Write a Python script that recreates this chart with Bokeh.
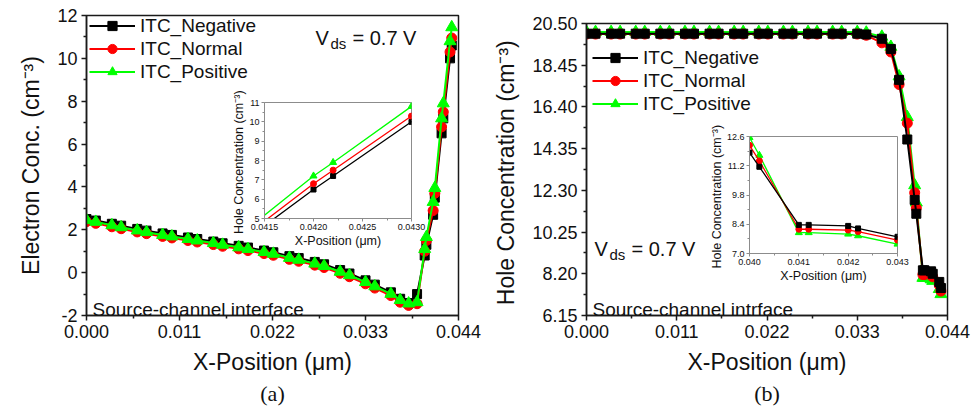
from bokeh.plotting import figure
from bokeh.models import FixedTicker, PrintfTickFormatter, Legend, LegendItem, Label, Title, Range1d
from bokeh.layouts import row, column
from bokeh.embed import file_html
from bokeh.resources import INLINE

# ---- data -------------------------------------------------------------
x_pos = [0.0000, 0.0011, 0.0030, 0.0041, 0.0060, 0.0071, 0.0090, 0.0101,
         0.0120, 0.0131, 0.0150, 0.0161, 0.0180, 0.0191, 0.0210, 0.0221,
         0.0240, 0.0251, 0.0270, 0.0281, 0.0300, 0.0311, 0.0330, 0.0341,
         0.0360, 0.0371, 0.0381, 0.0391, 0.0400, 0.0402, 0.0410, 0.0412,
         0.0420, 0.0422, 0.0430, 0.0432]

electron_negative = [2.50, 2.43, 2.28, 2.19, 2.04, 1.96, 1.83, 1.76,
                     1.64, 1.57, 1.45, 1.37, 1.25, 1.17, 1.03, 0.95,
                     0.77, 0.68, 0.50, 0.39, 0.12, -0.04, -0.36, -0.56,
                     -0.92, -1.22, -1.42, -1.00, 0.80, 1.30, 2.70, 3.50,
                     6.50, 7.20, 10.00, 10.60]
electron_normal = [2.38, 2.30, 2.14, 2.05, 1.90, 1.82, 1.69, 1.62,
                   1.50, 1.43, 1.31, 1.23, 1.11, 1.03, 0.89, 0.81,
                   0.62, 0.53, 0.35, 0.24, -0.03, -0.19, -0.52, -0.72,
                   -1.07, -1.38, -1.53, -1.45, 1.00, 1.50, 2.90, 3.70,
                   6.80, 7.50, 10.30, 10.95]
electron_positive = [2.45, 2.37, 2.21, 2.12, 1.97, 1.89, 1.76, 1.69,
                     1.57, 1.50, 1.38, 1.30, 1.18, 1.10, 0.96, 0.88,
                     0.69, 0.60, 0.42, 0.31, 0.04, -0.12, -0.44, -0.64,
                     -0.99, -1.28, -1.44, -1.38, 1.10, 1.66, 3.30, 3.95,
                     7.20, 7.90, 10.80, 11.45]

hole_negative = [20.00, 20.00, 20.00, 20.00, 20.00, 20.00, 20.00, 20.00,
                 20.00, 20.00, 20.00, 20.00, 20.00, 20.00, 20.00, 20.00,
                 20.00, 20.00, 20.00, 20.00, 20.00, 20.00, 20.00, 19.96,
                 19.75, 19.25, 17.73, 14.80, 11.83, 11.15, 8.37, 8.37,
                 8.32, 8.20, 7.80, 7.50]
hole_normal = [19.98, 19.98, 19.98, 19.98, 19.98, 19.98, 19.98, 19.98,
               19.98, 19.98, 19.98, 19.98, 19.98, 19.98, 19.98, 19.98,
               19.98, 19.98, 19.98, 19.98, 19.98, 19.98, 19.98, 19.92,
               19.55, 19.10, 17.50, 15.60, 12.18, 11.43, 8.16, 8.16,
               8.12, 8.05, 7.64, 7.35]
hole_positive = [20.08, 20.08, 20.08, 20.08, 20.08, 20.08, 20.08, 20.08,
                 20.08, 20.08, 20.08, 20.08, 20.08, 20.08, 20.08, 20.08,
                 20.08, 20.08, 20.08, 20.08, 20.08, 20.08, 20.08, 20.05,
                 19.85, 19.35, 17.90, 15.90, 12.55, 11.70, 8.00, 8.00,
                 7.93, 7.85, 7.45, 7.20]

series_names = ["ITC_Negative", "ITC_Normal", "ITC_Positive"]
series_colors = ["#000000", "#ff0000", "#00ff00"]
series_markers = ["square", "circle", "triangle"]
series_sizes = [9, 10, 12]

x_ticks_main = [0.000, 0.011, 0.022, 0.033, 0.044]
electron_ticks = [-2, 0, 2, 4, 6, 8, 10, 12]
hole_ticks = [6.15, 8.20, 10.25, 12.30, 14.35, 16.40, 18.45, 20.50]
inset_a_xticks = [0.0415, 0.0420, 0.0425, 0.0430]
inset_a_yticks = [5, 6, 7, 8, 9, 10, 11]
inset_b_xticks = [0.040, 0.041, 0.042, 0.043]
inset_b_yticks = [7.0, 8.4, 9.8, 11.2, 12.6]

FONT = "Liberation Sans"


def ticker(major):
    mids = [(a + b) / 2 for a, b in zip(major[:-1], major[1:])]
    return FixedTicker(ticks=major, minor_ticks=mids)


def style_axes(p, xt, yt, xfmt, yfmt, label_size, tick_size, line_color,
               tick_out, minor_out, line_width):
    p.xaxis.ticker = ticker(xt)
    p.yaxis.ticker = ticker(yt)
    p.xaxis.formatter = PrintfTickFormatter(format=xfmt)
    p.yaxis.formatter = PrintfTickFormatter(format=yfmt)
    for ax in (p.xaxis, p.yaxis):
        ax.axis_line_color = line_color
        ax.axis_line_width = line_width
        ax.major_tick_line_color = line_color
        ax.minor_tick_line_color = line_color
        ax.major_tick_line_width = line_width
        ax.minor_tick_line_width = line_width
        ax.major_tick_out = tick_out
        ax.major_tick_in = 0
        ax.minor_tick_out = minor_out
        ax.minor_tick_in = 0
        ax.major_label_text_font = FONT
        ax.major_label_text_font_size = tick_size
        ax.major_label_text_color = "#111111"
        ax.axis_label_text_font = FONT
        ax.axis_label_text_font_size = label_size
        ax.axis_label_text_font_style = "normal"
        ax.axis_label_text_color = "#111111"
    p.grid.visible = False


def draw_series(p, ys, order, line_width, sizes):
    rends = {}
    for i in order:
        ln = p.line(x_pos, ys[i], line_color=series_colors[i], line_width=line_width)
        sc = p.scatter(x_pos, ys[i], marker=series_markers[i], size=sizes[i],
                       fill_color=series_colors[i], line_color=series_colors[i])
        rends[i] = [ln, sc]
    return rends


def main_panel(ys, y_range, y_ticks, y_fmt, y_label, borders, order):
    left, right, top, bottom = borders
    p = figure(width=490, height=410, x_range=Range1d(0.0, 0.044), y_range=y_range,
               output_backend="svg", toolbar_location=None, frame_align=False,
               min_border_left=left, min_border_right=right,
               min_border_top=top, min_border_bottom=bottom)
    p.outline_line_color = "#1a1a1a"
    p.outline_line_width = 1.5
    p.background_fill_color = "white"
    p.border_fill_color = "white"
    style_axes(p, x_ticks_main, y_ticks, "%.3f", y_fmt, "23px", "18px",
               "#1a1a1a", 5, 3, 1.5)
    p.xaxis.axis_label = "X-Position (\u03bcm)"
    p.yaxis.axis_label = y_label
    p.xaxis.major_label_standoff = 4
    p.yaxis.major_label_standoff = 4
    p.xaxis.axis_label_standoff = 8
    rends = draw_series(p, ys, order, 2, series_sizes)
    items = [LegendItem(label=series_names[i], renderers=rends[i]) for i in range(3)]
    return p, items


def add_legend(p, items, loc):
    lg = Legend(items=items, location=loc, label_text_font=FONT,
                label_text_font_size="19px", label_text_color="#111111",
                glyph_width=46, glyph_height=23, label_height=23,
                label_standoff=5, spacing=0, padding=0, margin=0,
                border_line_alpha=0, background_fill_alpha=0)
    p.add_layout(lg)


def add_vds(p, x, y):
    p.add_layout(Label(x=x, y=y, x_units="screen", y_units="screen", text="V",
                       text_font=FONT, text_font_size="20px", text_color="#111111",
                       text_baseline="alphabetic"))
    p.add_layout(Label(x=x + 15, y=y - 6, x_units="screen", y_units="screen", text="ds",
                       text_font=FONT, text_font_size="15px", text_color="#111111",
                       text_baseline="alphabetic"))
    p.add_layout(Label(x=x + 37, y=y, x_units="screen", y_units="screen", text="= 0.7 V",
                       text_font=FONT, text_font_size="20px", text_color="#111111",
                       text_baseline="alphabetic"))


def add_note(p, text):
    p.add_layout(Label(x=6, y=6, x_units="screen", y_units="screen", text=text,
                       text_font=FONT, text_font_size="19px", text_color="#111111",
                       text_baseline="alphabetic"))


def add_caption(p, text):
    p.add_layout(Title(text=text, align="center", text_font="Liberation Serif",
                       text_font_size="22px", text_font_style="normal",
                       text_color="#111111", standoff=2), "below")


def inset_panel(ys, xr, yr, xt, yt, xfmt, yfmt, frame_w, frame_h, borders, pos, order):
    left, right, top, bottom = borders
    px, py = pos
    p = figure(width=left + frame_w + right, height=top + frame_h + bottom,
               x_range=Range1d(*xr), y_range=Range1d(*yr),
               output_backend="svg", toolbar_location=None, frame_align=False,
               min_border_left=left, min_border_right=right,
               min_border_top=top, min_border_bottom=bottom,
               styles={"position": "absolute", "left": f"{px}px", "top": f"{py}px"})
    p.border_fill_alpha = 0
    p.background_fill_color = "white"
    p.outline_line_color = "#8c8c8c"
    p.outline_line_width = 1
    style_axes(p, xt, yt, xfmt, yfmt, "12.5px", "9px", "#8c8c8c", 3, 2, 1)
    p.xaxis.axis_label = "X-Position (\u03bcm)"
    p.yaxis.axis_label = "Hole Concentration  (cm\u207b\u00b3)"
    p.xaxis.major_label_standoff = 2
    p.yaxis.major_label_standoff = 2
    p.xaxis.axis_label_standoff = 1
    p.yaxis.axis_label_standoff = 0
    draw_series(p, ys, order, 1.3, [5, 6, 7])
    return p


# ---- (a) electron concentration ---------------------------------------
electron = [electron_negative, electron_normal, electron_positive]
pa, items_a = main_panel(electron, Range1d(-2, 12), electron_ticks, "%d",
                         "Electron Conc. (cm\u207b\u00b3)", (86, 32, 15, 95), [0, 1, 2])
pa.yaxis.axis_label_standoff = 10
add_legend(pa, items_a, (3, 232))
add_vds(pa, 229, 278)
add_note(pa, "Source-channel interface")
add_caption(pa, "(a)")

inset_a = inset_panel(electron, (0.0415, 0.0430), (5, 11), inset_a_xticks, inset_a_yticks,
                      "%.4f", "%d", 147, 116, (70, 40, 20, 40), (194, 82), [0, 1, 2])

# ---- (b) hole concentration -------------------------------------------
hole = [hole_negative, hole_normal, hole_positive]
pb, items_b = main_panel(hole, Range1d(6.15, 20.50), hole_ticks, "%.2f",
                         "Hole Concentration  (cm\u207b\u00b3)", (94, 33, 23, 95), [2, 1, 0])
pb.yaxis.axis_label_standoff = 10
add_legend(pb, items_b, (6, 200))
add_vds(pb, 8, 67)
add_note(pb, "Source-channel intrface")
add_caption(pb, "(b)")

inset_b = inset_panel(hole, (0.040, 0.043), (7.0, 12.6), inset_b_xticks, inset_b_yticks,
                      "%.3f", "%.1f", 148, 117, (70, 40, 20, 40), (189, 116), [2, 1, 0])

col_a = column(pa, inset_a, styles={"position": "relative"})
col_b = column(pb, inset_b, styles={"position": "relative"})
layout = row(col_a, col_b)

open("out.html", "w").write(file_html(layout, INLINE))
